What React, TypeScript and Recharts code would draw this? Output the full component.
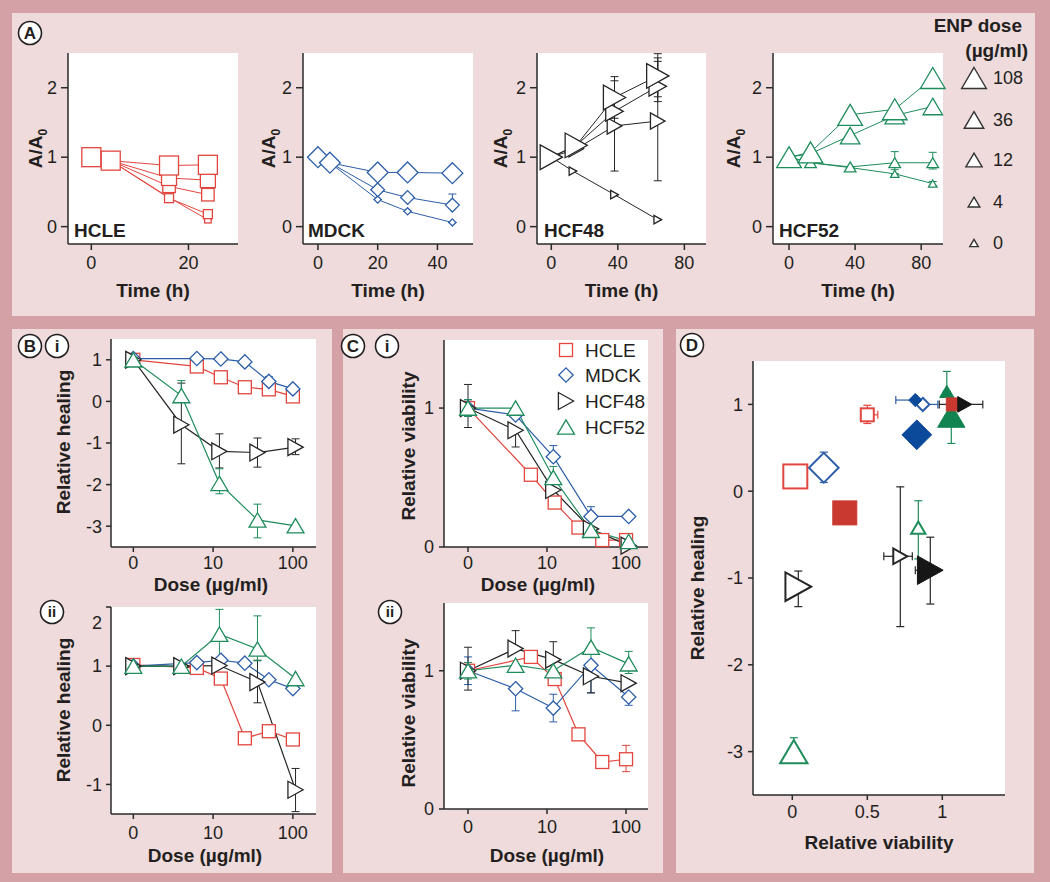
import React from 'react';
import { ComposedChart, Line, Scatter, XAxis, YAxis, CartesianGrid, ErrorBar } from 'recharts';

const FONT = '"Liberation Sans", Arial, Helvetica, sans-serif';
const INK = '#231f20';
const AXIS = '#2a2a2a';
const OUTER = '#d4a2a6';
const PANEL = '#efdbdb';

const C_HCLE = '#e2463f';
const C_MDCK = '#2c5ea9';
const C_HCF48 = '#262626';
const C_HCF52 = '#1f8c5c';
const F_HCLE = '#c9392f';
const F_MDCK = '#0b4a9b';
const F_HCF48 = '#161616';
const F_HCF52 = '#128452';

// ---------------- Panel A : relative wound area vs time ----------------
const enpDoses = [108, 36, 12, 4, 0];

const hcleTime = [0, 4, 16, 24];
const hcleArea108 = [1.0, 0.95, 0.88, 0.89];
const hcleArea36 = [1.0, 0.95, 0.7, 0.67];
const hcleArea12 = [1.0, 0.95, 0.58, 0.46];
const hcleArea4 = [1.0, 0.95, 0.41, 0.18];
const hcleArea0 = [1.0, 0.95, 0.42, 0.1];

const mdckTime = [0, 4, 20, 30, 45];
const mdckArea108 = [1.0, 0.92, 0.78, 0.78, 0.77];
const mdckArea12 = [1.0, 0.92, 0.53, 0.42, 0.31];
const mdckArea12Err = [[0, 0], [0, 0], [0, 0], [0, 0], [0, 0.16]];
const mdckArea0 = [1.0, 0.92, 0.39, 0.22, 0.06];

const hcf48Time = [0, 15, 38, 64];
const hcf48TimeCtrl = [0, 13, 38, 64];
const hcf48Area108 = [1.0, 1.17, 1.86, 2.17];
const hcf48Area108Err = [[0, 0], [0, 0], [0.3, 0.3], [0.3, 0.32]];
const hcf48Area36 = [1.0, 1.17, 1.66, 2.02];
const hcf48Area36Err = [[0, 0], [0, 0], [0, 0], [0.22, 0.41]];
const hcf48Area12 = [1.0, 1.12, 1.45, 1.52];
const hcf48Area12Err = [[0, 0], [0, 0], [0.65, 0.65], [0.86, 0.86]];
const hcf48Area0 = [1.0, 0.8, 0.46, 0.1];

const hcf52Time = [0, 13, 37, 64, 87];
const hcf52Area108 = [1.0, 1.07, 1.61, 1.69, 2.14];
const hcf52Area36 = [1.0, 1.05, 1.31, 1.6, 1.73];
const hcf52Area4 = [1.0, 0.92, 0.86, 0.92, 0.92];
const hcf52Area4Err = [[0, 0], [0, 0], [0, 0], [0.1, 0.16], [0.09, 0.15]];
const hcf52Area0 = [1.0, 0.92, 0.85, 0.76, 0.62];
const hcf52Area0Err = [[0, 0], [0, 0], [0, 0], [0, 0], [0.03, 0.03]];

// ---------------- Panels B / C : dose response ----------------
const doseTickLabels = ['0', '10', '100'];
const doseHCLE = [0, 6.25, 12.5, 25, 50, 100];
const doseMDCKHeal = [0, 6.25, 12.5, 25, 50, 100];
const doseMDCKViab = [0, 4, 12, 36, 108];
const doseHCF = [0, 4, 12, 36, 108];

// B(i) relative healing
const healI_HCLE = [1.0, 0.84, 0.58, 0.34, 0.29, 0.12];
const healI_MDCK = [1.03, 1.03, 1.02, 0.95, 0.48, 0.3];
const healI_MDCKErr = [[0, 0], [0, 0], [0, 0], [0, 0], [0, 0.12], [0, 0]];
const healI_HCF48 = [1.0, -0.56, -1.2, -1.23, -1.1];
const healI_HCF48Err = [[0, 0], [0.94, 1.0], [0.4, 0.42], [0.35, 0.35], [0.18, 0.2]];
const healI_HCF52 = [1.0, 0.14, -1.97, -2.85, -2.99];
const healI_HCF52Err = [[0, 0], [0.15, 0.36], [0.25, 0.35], [0.43, 0.38], [0, 0]];

// B(ii) relative healing
const healII_HCLE = [1.02, 0.97, 0.79, -0.22, -0.1, -0.24];
const healII_MDCK = [1.0, 1.06, 1.1, 1.05, 0.77, 0.62];
const healII_HCF48 = [1.0, 1.0, 1.01, 0.73, -1.09];
const healII_HCF48Err = [[0, 0], [0, 0], [0, 0], [0.35, 0.37], [0.37, 0.36]];
const healII_HCF52 = [1.0, 1.0, 1.54, 1.29, 0.79];
const healII_HCF52Err = [[0, 0], [0, 0], [0.5, 0.42], [0.2, 0.56], [0, 0]];

// C(i) relative viability
const viabI_HCLE = [1.0, 0.52, 0.32, 0.14, 0.05, 0.05];
const viabI_MDCK = [1.0, 0.95, 0.65, 0.22, 0.22];
const viabI_MDCKErr = [[0.06, 0.06], [0, 0], [0, 0.08], [0, 0.07], [0, 0]];
const viabI_HCF48 = [1.0, 0.84, 0.41, 0.13, 0.01];
const viabI_HCF48Err = [[0.14, 0.17], [0.12, 0], [0, 0], [0, 0], [0, 0]];
const viabI_HCF52 = [1.0, 1.0, 0.5, 0.12, 0.04];
const viabI_HCF52Err = [[0.06, 0.06], [0, 0], [0, 0.08], [0, 0], [0, 0]];

// C(ii) relative viability
const viabII_HCLE = [1.0, 1.1, 0.94, 0.54, 0.34, 0.36];
const viabII_HCLEErr = [[0, 0], [0, 0], [0, 0], [0, 0], [0, 0], [0.09, 0.1]];
const viabII_MDCK = [1.0, 0.87, 0.73, 1.04, 0.81];
const viabII_MDCKErr = [[0.1, 0.1], [0.16, 0], [0.1, 0.1], [0.2, 0], [0.06, 0]];
const viabII_HCF48 = [1.0, 1.16, 1.08, 0.96, 0.91];
const viabII_HCF48Err = [[0.14, 0.17], [0, 0.13], [0, 0.13], [0.12, 0], [0, 0]];
const viabII_HCF52 = [1.0, 1.04, 1.0, 1.17, 1.05];
const viabII_HCF52Err = [[0.06, 0.06], [0, 0], [0, 0], [0.11, 0.14], [0.07, 0.09]];

// ---------------- Panel D : healing vs viability ----------------
const dCondition = ['i', 'i', 'ii', 'ii'];
const dDoseLevel = ['low', 'high', 'low', 'high'];
const dViab_HCLE = [0.5, 0.02, 1.07, 0.35];
const dHeal_HCLE = [0.88, 0.17, 1.0, -0.25];
const dViabErr_HCLE = [[0, 0.07], [0, 0], [0, 0], [0, 0]];
const dHealErr_HCLE = [[0.1, 0.11], [0, 0], [0, 0], [0, 0]];
const dViab_MDCK = [0.87, 0.21, 0.82, 0.83];
const dHeal_MDCK = [1.0, 0.27, 1.05, 0.65];
const dViabErr_MDCK = [[0, 0.1], [0, 0], [0.13, 0], [0, 0]];
const dHealErr_MDCK = [[0, 0], [0.17, 0.18], [0, 0], [0, 0]];
const dViab_HCF48 = [0.72, 0.04, 1.15, 0.92];
const dHeal_HCF48 = [-0.75, -1.1, 1.0, -0.91];
const dViabErr_HCF48 = [[0.11, 0.08], [0, 0], [0.17, 0.12], [0.1, 0]];
const dHealErr_HCF48 = [[0.81, 0.8], [0.23, 0.18], [0, 0], [0.39, 0.38]];
const dViab_HCF52 = [0.84, 0.01, 1.03, 1.06];
const dHeal_HCF52 = [-0.42, -3.0, 1.15, 0.87];
const dViabErr_HCF52 = [[0, 0], [0, 0], [0, 0], [0, 0]];
const dHealErr_HCF52 = [[0.36, 0.31], [0, 0.16], [0, 0.23], [0.32, 0]];

// ---------------- helpers ----------------
const A_SIZE: Record<number, number> = { 108: 19, 36: 15, 12: 12.5, 4: 9, 0: 6.5 };
const BC_SIZE = 13;
const D_SIZE: Record<string, Record<string, number>> = {
  square: { low: 13, high: 24 },
  diamond: { low: 12, high: 27 },
  triUp: { low: 11, high: 21 },
  triRight: { low: 12, high: 22 },
};

const lx = (d: number) => (d === 0 ? 0 : Math.log10(d));

function pts(xs: number[], ys: number[], errs?: number[][]) {
  return ys.map((y, i) => ({ x: xs[i], y, e: errs ? errs[i] : [0, 0] }));
}

function Marker({ shape, cx, cy, size, stroke, fill, sw }: any) {
  if (cx == null || cy == null || isNaN(cx) || isNaN(cy)) return null;
  const common = { stroke, fill, strokeWidth: sw };
  if (shape === 'square')
    return <rect x={cx - size / 2} y={cy - size / 2} width={size} height={size} {...common} />;
  if (shape === 'diamond') {
    const r = size * 0.55;
    return <polygon points={`${cx},${cy - r} ${cx + r},${cy} ${cx},${cy + r} ${cx - r},${cy}`} {...common} />;
  }
  if (shape === 'triUp') {
    const w = size * 1.3;
    const h = w * 0.85;
    return <polygon points={`${cx},${cy - h / 2} ${cx + w / 2},${cy + h / 2} ${cx - w / 2},${cy + h / 2}`} {...common} />;
  }
  const v = size * 1.3;
  const hz = v * 0.9;
  return <polygon points={`${cx + hz / 2},${cy} ${cx - hz / 2},${cy - v / 2} ${cx - hz / 2},${cy + v / 2}`} {...common} />;
}

function seriesLine(key: string, data: any[], shape: string, size: number, color: string, sw = 1.3, lw = 1) {
  return (
    <Line
      key={key}
      data={data}
      dataKey="y"
      type="linear"
      stroke={color}
      strokeWidth={lw}
      isAnimationActive={false}
      activeDot={false}
      legendType="none"
      dot={(p: any) => (
        <Marker key={`${key}-${p.index}`} shape={shape} cx={p.cx} cy={p.cy} size={size} stroke={color} fill="#ffffff" sw={sw} />
      )}
    >
      <ErrorBar dataKey="e" direction="y" width={4} stroke={color} strokeWidth={1} isAnimationActive={false} />
    </Line>
  );
}

const ML = 60;
const MR = 14;
const MT = 14;
const MB = 40;

function makeXTick(fmt: (v: number) => string) {
  return (p: any) => (
    <text x={p.x} y={p.y} dy="0.71em" textAnchor="middle" fontSize={18} fill={INK} fontFamily={FONT}>
      {fmt(p.payload.value)}
    </text>
  );
}
function makeYTick(fmt: (v: number) => string, shift?: (v: number) => number) {
  return (p: any) => (
    <text
      x={p.x}
      y={p.y + (shift ? shift(p.payload.value) : 0)}
      dy="0.35em"
      textAnchor="end"
      fontSize={18}
      fill={INK}
      fontFamily={FONT}
    >
      {fmt(p.payload.value)}
    </text>
  );
}

function Plot(props: any) {
  const { box, xDomain, yDomain, xTicks, yTicks, xFmt, yFmt, yShift, xt, yt, children } = props;
  const [l, t, r, b] = box;
  const w = r - l + ML + MR;
  const h = b - t + MT + MB;
  const ax = { stroke: AXIS, strokeWidth: 1.5 };
  return (
    <div style={{ position: 'absolute', left: l - ML, top: t - MT, width: w, height: h }}>
      <ComposedChart width={w} height={h} margin={{ top: MT, right: MR, left: 0, bottom: 0 }}>
        <CartesianGrid horizontal={false} vertical={false} fill="#ffffff" stroke="none" />
        <XAxis
          type="number"
          dataKey="x"
          domain={xDomain}
          ticks={xTicks}
          interval={0}
          height={MB}
          axisLine={ax}
          tickLine={ax}
          tickSize={xt[0]}
          tickMargin={xt[1]}
          tick={makeXTick(xFmt || ((v: number) => String(v)))}
        />
        <YAxis
          type="number"
          dataKey="y"
          domain={yDomain}
          ticks={yTicks}
          interval={0}
          width={ML}
          axisLine={ax}
          tickLine={ax}
          tickSize={yt[0]}
          tickMargin={yt[1]}
          tick={makeYTick(yFmt || ((v: number) => String(v)), yShift)}
        />
        {children}
      </ComposedChart>
    </div>
  );
}

function dScatter(key: string, shape: string, viab: number[], heal: number[], ex: number[][], ey: number[][], stroke: string, fillColor: string) {
  const data = viab.map((x, i) => ({ x, y: heal[i], ex: ex[i], ey: ey[i], cond: dCondition[i], level: dDoseLevel[i] }));
  return (
    <Scatter
      key={key}
      data={data}
      isAnimationActive={false}
      legendType="none"
      shape={(p: any) => (
        <Marker
          shape={shape}
          cx={p.cx}
          cy={p.cy}
          size={D_SIZE[shape][p.payload.level]}
          stroke={p.payload.cond === 'ii' ? fillColor : stroke}
          fill={p.payload.cond === 'ii' ? fillColor : '#ffffff'}
          sw={p.payload.cond === 'ii' ? 1 : 2}
        />
      )}
    >
      <ErrorBar dataKey="ex" direction="x" width={4} stroke={stroke} strokeWidth={1.2} isAnimationActive={false} />
      <ErrorBar dataKey="ey" direction="y" width={4} stroke={stroke} strokeWidth={1.2} isAnimationActive={false} />
    </Scatter>
  );
}

function CircleLabel({ x, y, t }: any) {
  return (
    <g>
      <circle cx={x} cy={y} r={11.5} fill="#ffffff" stroke={INK} strokeWidth={1.6} />
      <text x={x} y={y} dy="0.36em" textAnchor="middle" fontSize={t.length > 1 ? 15 : 17} fontWeight="bold" fill={INK}>
        {t}
      </text>
    </g>
  );
}

function Title({ x, y, text, rotate }: any) {
  return rotate ? (
    <text transform={`translate(${x},${y}) rotate(-90)`} dy="0.35em" textAnchor="middle" fontSize={19} fontWeight="bold" fill={INK}>
      {text}
    </text>
  ) : (
    <text x={x} y={y} dy="0.35em" textAnchor="middle" fontSize={19} fontWeight="bold" fill={INK}>
      {text}
    </text>
  );
}

export default function App() {
  const yA = [-0.25, 2.5];
  const aXt = [6, 6];
  const aYt = [7, 4];

  const hcleData: [number, number[]][] = [[0, hcleArea0], [4, hcleArea4], [12, hcleArea12], [36, hcleArea36], [108, hcleArea108]];
  const mdckData: [number, number[], number[][] | undefined][] = [[0, mdckArea0, undefined], [12, mdckArea12, mdckArea12Err], [108, mdckArea108, undefined]];

  const bX = [-0.28, 2.29];
  const cX = [-0.304, 2.278];
  const doseFmt = (v: number) => doseTickLabels[v];

  return (
    <div style={{ position: 'absolute', left: 0, top: 0, width: 1050, height: 882, background: OUTER, overflow: 'hidden', fontFamily: FONT }}>
      <div style={{ position: 'absolute', left: 12, top: 13, width: 1023, height: 303, background: PANEL }} />
      <div style={{ position: 'absolute', left: 12, top: 329, width: 320, height: 544, background: PANEL }} />
      <div style={{ position: 'absolute', left: 343, top: 329, width: 320, height: 544, background: PANEL }} />
      <div style={{ position: 'absolute', left: 676, top: 329, width: 358, height: 544, background: PANEL }} />

      {/* Panel A */}
      <Plot box={[68, 53, 238, 244]} xDomain={[-4.8, 30.2]} yDomain={yA} xTicks={[0, 20]} yTicks={[0, 1, 2]} xt={aXt} yt={aYt}>
        {hcleData.map(([d, ys]) => seriesLine(`hcle${d}`, pts(hcleTime, ys), 'square', A_SIZE[d], C_HCLE))}
      </Plot>
      <Plot box={[303, 53, 473, 244]} xDomain={[-5, 51.9]} yDomain={yA} xTicks={[0, 20, 40]} yTicks={[0, 1, 2]} xt={aXt} yt={aYt}>
        {mdckData.map(([d, ys, er]) => seriesLine(`mdck${d}`, pts(mdckTime, ys, er), 'diamond', A_SIZE[d], C_MDCK))}
      </Plot>
      <Plot box={[537, 53, 706, 244]} xDomain={[-8.6, 93]} yDomain={yA} xTicks={[0, 40, 80]} yTicks={[0, 1, 2]} xt={aXt} yt={aYt}>
        {seriesLine('h48_0', pts(hcf48TimeCtrl, hcf48Area0), 'triRight', A_SIZE[0], C_HCF48)}
        {seriesLine('h48_12', pts(hcf48Time, hcf48Area12, hcf48Area12Err), 'triRight', A_SIZE[12], C_HCF48)}
        {seriesLine('h48_36', pts(hcf48Time, hcf48Area36, hcf48Area36Err), 'triRight', A_SIZE[36], C_HCF48)}
        {seriesLine('h48_108', pts(hcf48Time, hcf48Area108, hcf48Area108Err), 'triRight', A_SIZE[108], C_HCF48)}
      </Plot>
      <Plot box={[773, 53, 943, 244]} xDomain={[-9.7, 93.2]} yDomain={yA} xTicks={[0, 40, 80]} yTicks={[0, 1, 2]} xt={aXt} yt={aYt}>
        {seriesLine('h52_0', pts(hcf52Time, hcf52Area0, hcf52Area0Err), 'triUp', A_SIZE[0], C_HCF52)}
        {seriesLine('h52_4', pts(hcf52Time, hcf52Area4, hcf52Area4Err), 'triUp', A_SIZE[4], C_HCF52)}
        {seriesLine('h52_36', pts(hcf52Time, hcf52Area36), 'triUp', A_SIZE[36], C_HCF52)}
        {seriesLine('h52_108', pts(hcf52Time, hcf52Area108), 'triUp', A_SIZE[108], C_HCF52)}
      </Plot>

      {/* Panel B(i) */}
      <Plot box={[111, 339, 316, 547]} xDomain={bX} yDomain={[-3.5, 1.5]} xTicks={[0, 1, 2]} yTicks={[-3, -2, -1, 0, 1]} xFmt={doseFmt} xt={[5, 4]} yt={[5, 4]}>
        {seriesLine('bi1', pts(doseHCLE.map(lx), healI_HCLE), 'square', BC_SIZE, C_HCLE, 1.3, 1.2)}
        {seriesLine('bi2', pts(doseMDCKHeal.map(lx), healI_MDCK, healI_MDCKErr), 'diamond', BC_SIZE, C_MDCK, 1.3, 1.2)}
        {seriesLine('bi3', pts(doseHCF.map(lx), healI_HCF48, healI_HCF48Err), 'triRight', BC_SIZE, C_HCF48, 1.3, 1.2)}
        {seriesLine('bi4', pts(doseHCF.map(lx), healI_HCF52, healI_HCF52Err), 'triUp', BC_SIZE, C_HCF52, 1.3, 1.2)}
      </Plot>
      {/* Panel B(ii) */}
      <Plot box={[111, 607, 316, 814]} xDomain={bX} yDomain={[-1.5, 2]} xTicks={[0, 1, 2]} yTicks={[-1, 0, 1, 2]} xFmt={doseFmt} yShift={(v: number) => (v === 2 ? 16 : 0)} xt={[5, 7]} yt={[5, 4]}>
        {seriesLine('bii1', pts(doseHCLE.map(lx), healII_HCLE), 'square', BC_SIZE, C_HCLE, 1.3, 1.2)}
        {seriesLine('bii2', pts(doseMDCKHeal.map(lx), healII_MDCK), 'diamond', BC_SIZE, C_MDCK, 1.3, 1.2)}
        {seriesLine('bii3', pts(doseHCF.map(lx), healII_HCF48, healII_HCF48Err), 'triRight', BC_SIZE, C_HCF48, 1.3, 1.2)}
        {seriesLine('bii4', pts(doseHCF.map(lx), healII_HCF52, healII_HCF52Err), 'triUp', BC_SIZE, C_HCF52, 1.3, 1.2)}
      </Plot>
      {/* Panel C(i) */}
      <Plot box={[444, 340, 648, 547]} xDomain={cX} yDomain={[0, 1.49]} xTicks={[0, 1, 2]} yTicks={[0, 1]} xFmt={doseFmt} xt={[5, 4]} yt={[5, 5]}>
        {seriesLine('ci1', pts(doseHCLE.map(lx), viabI_HCLE), 'square', BC_SIZE, C_HCLE, 1.3, 1.2)}
        {seriesLine('ci2', pts(doseMDCKViab.map(lx), viabI_MDCK, viabI_MDCKErr), 'diamond', BC_SIZE, C_MDCK, 1.3, 1.2)}
        {seriesLine('ci3', pts(doseHCF.map(lx), viabI_HCF48, viabI_HCF48Err), 'triRight', BC_SIZE, C_HCF48, 1.3, 1.2)}
        {seriesLine('ci4', pts(doseHCF.map(lx), viabI_HCF52, viabI_HCF52Err), 'triUp', BC_SIZE, C_HCF52, 1.3, 1.2)}
      </Plot>
      {/* Panel C(ii) */}
      <Plot box={[444, 603, 648, 809]} xDomain={cX} yDomain={[0, 1.49]} xTicks={[0, 1, 2]} yTicks={[0, 1]} xFmt={doseFmt} xt={[5, 6]} yt={[5, 5]}>
        {seriesLine('cii1', pts(doseHCLE.map(lx), viabII_HCLE, viabII_HCLEErr), 'square', BC_SIZE, C_HCLE, 1.3, 1.2)}
        {seriesLine('cii2', pts(doseMDCKViab.map(lx), viabII_MDCK, viabII_MDCKErr), 'diamond', BC_SIZE, C_MDCK, 1.3, 1.2)}
        {seriesLine('cii3', pts(doseHCF.map(lx), viabII_HCF48, viabII_HCF48Err), 'triRight', BC_SIZE, C_HCF48, 1.3, 1.2)}
        {seriesLine('cii4', pts(doseHCF.map(lx), viabII_HCF52, viabII_HCF52Err), 'triUp', BC_SIZE, C_HCF52, 1.3, 1.2)}
      </Plot>
      {/* Panel D */}
      <Plot box={[753, 361, 1005, 795]} xDomain={[-0.262, 1.418]} yDomain={[-3.5, 1.5]} xTicks={[0, 0.5, 1]} yTicks={[-3, -2, -1, 0, 1]} xt={[5, 5]} yt={[5, 5]}>
        {dScatter('dM', 'diamond', dViab_MDCK, dHeal_MDCK, dViabErr_MDCK, dHealErr_MDCK, C_MDCK, F_MDCK)}
        {dScatter('d52', 'triUp', dViab_HCF52, dHeal_HCF52, dViabErr_HCF52, dHealErr_HCF52, C_HCF52, F_HCF52)}
        {dScatter('dH', 'square', dViab_HCLE, dHeal_HCLE, dViabErr_HCLE, dHealErr_HCLE, C_HCLE, F_HCLE)}
        {dScatter('d48', 'triRight', dViab_HCF48, dHeal_HCF48, dViabErr_HCF48, dHealErr_HCF48, C_HCF48, F_HCF48)}
      </Plot>

      {/* text overlay */}
      <svg width={1050} height={882} style={{ position: 'absolute', left: 0, top: 0, pointerEvents: 'none' }} fontFamily={FONT}>
        <CircleLabel x={30} y={33} t="A" />
        <CircleLabel x={30} y={346} t="B" />
        <CircleLabel x={57} y={346} t="i" />
        <CircleLabel x={52} y={612} t="ii" />
        <CircleLabel x={353} y={346} t="C" />
        <CircleLabel x={387} y={346} t="i" />
        <CircleLabel x={390} y={612} t="ii" />
        <CircleLabel x={692} y={345} t="D" />

        {/* A subplot names */}
        {[
          [74, 'HCLE'],
          [308, 'MDCK'],
          [544, 'HCF48'],
          [779, 'HCF52'],
        ].map(([x, s]) => (
          <text key={s as string} x={x as number} y={237} fontSize={19} fontWeight="bold" fill={INK}>
            {s}
          </text>
        ))}
        {[153, 388, 621.5, 858].map((x) => (
          <Title key={`t${x}`} x={x} y={290} text="Time (h)" />
        ))}
        {[35, 268, 500, 733].map((x) => (
          <text key={`a${x}`} transform={`translate(${x},148.5) rotate(-90)`} dy="0.35em" textAnchor="middle" fontSize={19} fontWeight="bold" fill={INK}>
            A/A<tspan dy="5" fontSize="12">0</tspan>
          </text>
        ))}

        {/* A legend */}
        <text x={1022} y={25} dy="0.35em" textAnchor="end" fontSize={19} fontWeight="bold" fill={INK}>ENP dose</text>
        <text x={1028} y={50} dy="0.35em" textAnchor="end" fontSize={19} fontWeight="bold" fill={INK}>(µg/ml)</text>
        {enpDoses.map((d, i) => {
          const y = [78, 120, 160, 202, 243][i];
          return (
            <g key={`lg${d}`}>
              <Marker shape="triUp" cx={974} cy={y} size={A_SIZE[d]} stroke="#333" fill="#ffffff" sw={1.4} />
              <text x={993} y={y} dy="0.35em" fontSize={18} fill={INK}>{String(d)}</text>
            </g>
          );
        })}

        {/* B/C titles */}
        <Title x={211} y={584} text="Dose (µg/ml)" />
        <Title x={205} y={855} text="Dose (µg/ml)" />
        <Title x={538} y={584} text="Dose (µg/ml)" />
        <Title x={547} y={855} text="Dose (µg/ml)" />
        <Title x={63} y={442} text="Relative healing" rotate />
        <Title x={63} y={710} text="Relative healing" rotate />
        <Title x={408} y={446} text="Relative viability" rotate />
        <Title x={408} y={713} text="Relative viability" rotate />

        {/* C(i) legend */}
        {[
          ['square', C_HCLE, 'HCLE', 350],
          ['diamond', C_MDCK, 'MDCK', 375],
          ['triRight', C_HCF48, 'HCF48', 401],
          ['triUp', C_HCF52, 'HCF52', 427],
        ].map(([sh, c, s, y]) => (
          <g key={`cl${s}`}>
            <Marker shape={sh} cx={566} cy={y as number} size={BC_SIZE} stroke={c} fill="#ffffff" sw={1.3} />
            <text x={585} y={y as number} dy="0.35em" fontSize={19} fill={INK}>{s as string}</text>
          </g>
        ))}

        {/* D titles */}
        <Title x={697} y={588} text="Relative healing" rotate />
        <Title x={879} y={842} text="Relative viability" />
      </svg>
    </div>
  );
}
